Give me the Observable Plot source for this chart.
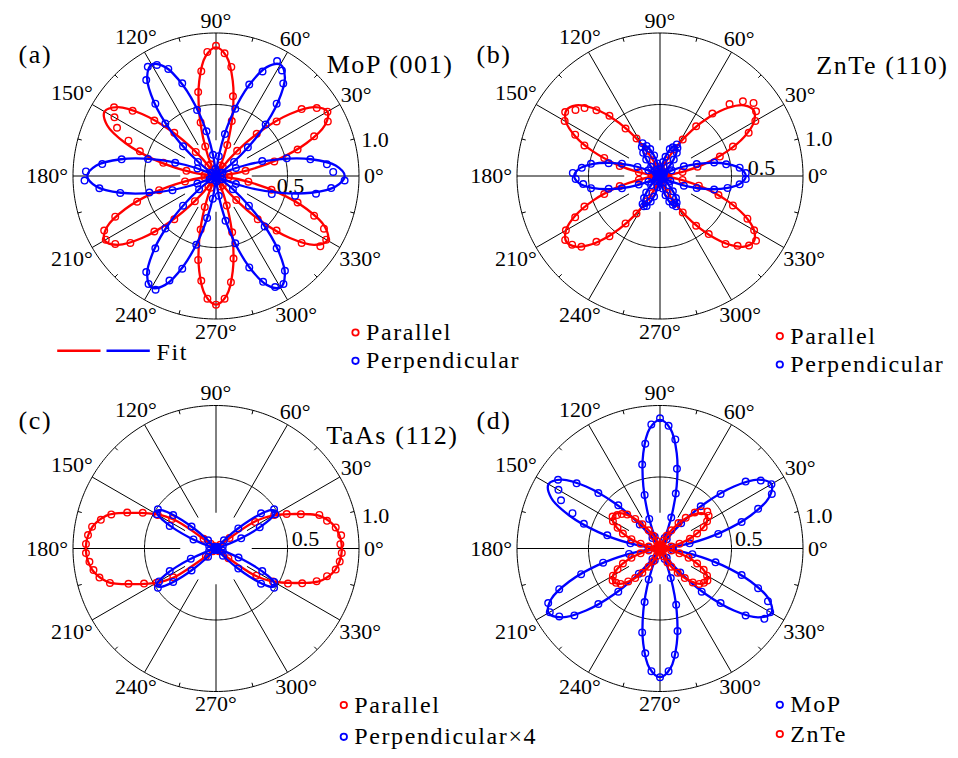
<!DOCTYPE html>
<html>
<head>
<meta charset="utf-8">
<script src="https://cdn.jsdelivr.net/npm/d3@7"></script>
<script src="https://cdn.jsdelivr.net/npm/@observablehq/plot@0.6"></script>
<style>
  html, body { margin: 0; padding: 0; background: #fff; }
  #chart { width: 958px; height: 758px; }
  #chart svg text { font-family: "Liberation Serif", "Times New Roman", serif !important; }
</style>
</head>
<body>
<div id="chart"></div>
<script>
// ================= DATA (radius vs. polarization angle, degrees) =================
// measured points: every 4 degrees starting at 2 degrees
const pointAngles = d3.range(2, 360, 4);

// (a) MoP (001)
const mopParallel = [
  0.01, 0.09, 0.21, 0.42, 0.60, 0.74, 0.87, 0.90, 0.85, 0.76, 0.57, 0.41, 0.23, 0.08, 0.02,
  0.02, 0.08, 0.23, 0.40, 0.57, 0.77, 0.86, 0.91, 0.87, 0.74, 0.60, 0.39, 0.22, 0.09, 0.01,
  0.01, 0.09, 0.22, 0.42, 0.58, 0.74, 0.86, 0.82, 0.77, 0.66, 0.56, 0.38, 0.21, 0.08, 0.02,
  0.02, 0.08, 0.22, 0.41, 0.58, 0.76, 0.87, 0.89, 0.85, 0.76, 0.58, 0.42, 0.23, 0.09, 0.01,
  0.01, 0.09, 0.23, 0.39, 0.60, 0.74, 0.86, 0.90, 0.86, 0.75, 0.59, 0.41, 0.22, 0.08, 0.02,
  0.02, 0.08, 0.22, 0.42, 0.57, 0.76, 0.88, 0.89, 0.84, 0.74, 0.60, 0.40, 0.23, 0.09, 0.01
];
const mopPerpendicular = [
  0.82, 0.78, 0.67, 0.51, 0.34, 0.15, 0.05, 0.01, 0.04, 0.16, 0.30, 0.50, 0.66, 0.80, 0.87,
  0.91, 0.80, 0.68, 0.49, 0.30, 0.14, 0.03, 0.01, 0.05, 0.15, 0.32, 0.48, 0.69, 0.82, 0.88,
  0.90, 0.83, 0.66, 0.51, 0.31, 0.16, 0.04, 0.00, 0.03, 0.14, 0.30, 0.49, 0.67, 0.80, 0.91,
  0.92, 0.82, 0.68, 0.48, 0.32, 0.14, 0.05, 0.01, 0.04, 0.15, 0.31, 0.51, 0.66, 0.83, 0.89,
  0.90, 0.80, 0.69, 0.50, 0.30, 0.16, 0.03, 0.01, 0.04, 0.14, 0.32, 0.49, 0.68, 0.81, 0.88,
  0.89, 0.82, 0.66, 0.49, 0.31, 0.15, 0.04, 0.01, 0.05, 0.15, 0.41, 0.57, 0.71, 0.81, 0.90
];

// (b) ZnTe (110)
const znteParallel = [
  0.01, 0.05, 0.16, 0.27, 0.44, 0.55, 0.69, 0.77, 0.81, 0.83, 0.78, 0.70, 0.57, 0.43, 0.30, 0.21, 0.12, 0.07, 0.03, 0.01, 0.01, 0.00, 0.01,
  0.00, 0.01, 0.02, 0.03, 0.07, 0.12, 0.20, 0.31, 0.41, 0.55, 0.64, 0.71, 0.75, 0.80, 0.77, 0.66, 0.57, 0.41, 0.29, 0.15, 0.06, 0.01,
  0.01, 0.06, 0.15, 0.29, 0.41, 0.57, 0.66, 0.76, 0.80, 0.78, 0.74, 0.64, 0.55, 0.41, 0.31, 0.20, 0.13, 0.06, 0.03, 0.01, 0.00, 0.00, 0.01,
  0.00, 0.01, 0.01, 0.03, 0.06, 0.13, 0.21, 0.30, 0.43, 0.53, 0.66, 0.73, 0.79, 0.81, 0.76, 0.68, 0.55, 0.43, 0.28, 0.16, 0.06, 0.01
];
const zntePerpendicular = [
  0.60, 0.56, 0.47, 0.39, 0.27, 0.18, 0.09, 0.03, 0.01, 0.02, 0.04, 0.10, 0.15, 0.20, 0.23, 0.25, 0.22, 0.20, 0.14, 0.10, 0.05, 0.02, 0.01,
  0.02, 0.05, 0.09, 0.15, 0.20, 0.23, 0.26, 0.24, 0.20, 0.15, 0.09, 0.05, 0.01, 0.01, 0.03, 0.09, 0.17, 0.28, 0.37, 0.49, 0.55, 0.61,
  0.59, 0.54, 0.49, 0.37, 0.28, 0.16, 0.09, 0.02, 0.01, 0.01, 0.04, 0.09, 0.15, 0.19, 0.23, 0.24, 0.23, 0.19, 0.15, 0.08, 0.04, 0.01, 0.00,
  0.01, 0.05, 0.09, 0.14, 0.19, 0.22, 0.24, 0.22, 0.19, 0.14, 0.09, 0.03, 0.01, 0.00, 0.03, 0.08, 0.18, 0.27, 0.39, 0.48, 0.56, 0.60
];

// (c) TaAs (112)
const taasParallel = [
  0.87, 0.88, 0.85, 0.80, 0.76, 0.64, 0.55, 0.47, 0.33, 0.12,
  0.04, 0.02, 0.01, 0.01, 0.00, 0.01, 0.00, 0.01, 0.00, 0.01, 0.00, 0.01, 0.00, 0.01, 0.00, 0.01, 0.00, 0.01, 0.00, 0.01, 0.01, 0.01, 0.02, 0.02, 0.05,
  0.11, 0.37, 0.47, 0.57, 0.67, 0.77, 0.83, 0.88, 0.90, 0.91,
  0.91, 0.89, 0.87, 0.84, 0.78, 0.66, 0.56, 0.48, 0.36, 0.09,
  0.03, 0.01, 0.01, 0.00, 0.01, 0.00, 0.01, 0.00, 0.01, 0.00, 0.01, 0.00, 0.01, 0.00, 0.01, 0.00, 0.01, 0.00, 0.01, 0.00, 0.01, 0.01, 0.01, 0.02, 0.03,
  0.11, 0.34, 0.46, 0.56, 0.65, 0.74, 0.80, 0.85, 0.87, 0.88
];
const taasPerpendicularX4 = [
  0.01, 0.00, 0.01, 0.01, 0.05, 0.19, 0.34, 0.48, 0.49, 0.40, 0.21, 0.08, 0.01, 0.00, 0.01,
  0.00, 0.01, 0.00, 0.01, 0.00, 0.01, 0.00, 0.01, 0.00, 0.01, 0.00, 0.01, 0.00, 0.01, 0.00,
  0.01, 0.00, 0.01, 0.08, 0.23, 0.38, 0.49, 0.48, 0.36, 0.17, 0.05, 0.01, 0.00, 0.01, 0.00,
  0.01, 0.00, 0.01, 0.01, 0.05, 0.19, 0.36, 0.46, 0.49, 0.38, 0.23, 0.08, 0.01, 0.00, 0.01,
  0.00, 0.01, 0.00, 0.01, 0.00, 0.01, 0.00, 0.01, 0.00, 0.01, 0.00, 0.01, 0.00, 0.01, 0.00,
  0.01, 0.00, 0.01, 0.07, 0.21, 0.40, 0.49, 0.47, 0.36, 0.17, 0.05, 0.01, 0.00, 0.01, 0.00
];

// (d) MoP (same as a, parallel) vs ZnTe parallel on the common scale
const znteVsMoP = [
  0.01, 0.03, 0.08, 0.14, 0.22, 0.28, 0.34, 0.38, 0.41, 0.42, 0.39, 0.35, 0.28, 0.22, 0.15, 0.10, 0.06, 0.03, 0.02, 0.01, 0.00, 0.00, 0.00,
  0.00, 0.00, 0.01, 0.02, 0.03, 0.06, 0.10, 0.15, 0.21, 0.27, 0.33, 0.36, 0.38, 0.40, 0.38, 0.33, 0.28, 0.21, 0.14, 0.08, 0.03, 0.01,
  0.00, 0.03, 0.08, 0.14, 0.21, 0.28, 0.33, 0.38, 0.40, 0.39, 0.37, 0.32, 0.27, 0.21, 0.15, 0.10, 0.06, 0.03, 0.01, 0.00, 0.00, 0.00, 0.00,
  0.00, 0.00, 0.01, 0.01, 0.03, 0.06, 0.11, 0.15, 0.21, 0.27, 0.33, 0.37, 0.39, 0.40, 0.38, 0.34, 0.28, 0.21, 0.14, 0.08, 0.03, 0.01
];

// fit curves read every 5 degrees (a, b, d) and every 2.5 degrees (c)
const fitAngles5 = d3.range(0, 360, 5);
const fitAngles25 = d3.range(0, 360, 2.5);

const mopParallelFit = [
  0, 0.06, 0.225, 0.45, 0.675, 0.84, 0.9, 0.84, 0.675, 0.45, 0.225, 0.06,
  0, 0.06, 0.225, 0.45, 0.675, 0.84, 0.9, 0.84, 0.675, 0.45, 0.225, 0.06,
  0, 0.06, 0.225, 0.45, 0.675, 0.84, 0.9, 0.84, 0.675, 0.45, 0.225, 0.06,
  0, 0.06, 0.225, 0.45, 0.675, 0.84, 0.9, 0.84, 0.675, 0.45, 0.225, 0.06,
  0, 0.06, 0.225, 0.45, 0.675, 0.84, 0.9, 0.84, 0.675, 0.45, 0.225, 0.06,
  0, 0.06, 0.225, 0.45, 0.675, 0.84, 0.9, 0.84, 0.675, 0.45, 0.225, 0.06
];
const mopPerpendicularFit = [
  0.9, 0.84, 0.675, 0.45, 0.225, 0.06, 0, 0.06, 0.225, 0.45, 0.675, 0.84,
  0.9, 0.84, 0.675, 0.45, 0.225, 0.06, 0, 0.06, 0.225, 0.45, 0.675, 0.84,
  0.9, 0.84, 0.675, 0.45, 0.225, 0.06, 0, 0.06, 0.225, 0.45, 0.675, 0.84,
  0.9, 0.84, 0.675, 0.45, 0.225, 0.06, 0, 0.06, 0.225, 0.45, 0.675, 0.84,
  0.9, 0.84, 0.675, 0.45, 0.225, 0.06, 0, 0.06, 0.225, 0.45, 0.675, 0.84,
  0.9, 0.84, 0.675, 0.45, 0.225, 0.06, 0, 0.06, 0.225, 0.45, 0.675, 0.84
];
const znteParallelFit = [
  0, 0.040, 0.153, 0.315, 0.493, 0.651, 0.759, 0.800, 0.768, 0.675, 0.541, 0.392, 0.253, 0.142, 0.065, 0.023, 0.005, 0.000,
  0, 0.000, 0.005, 0.023, 0.065, 0.142, 0.253, 0.392, 0.541, 0.675, 0.768, 0.800, 0.759, 0.651, 0.493, 0.315, 0.153, 0.040,
  0, 0.040, 0.153, 0.315, 0.493, 0.651, 0.759, 0.800, 0.768, 0.675, 0.541, 0.392, 0.253, 0.142, 0.065, 0.023, 0.005, 0.000,
  0, 0.000, 0.005, 0.023, 0.065, 0.142, 0.253, 0.392, 0.541, 0.675, 0.768, 0.800, 0.759, 0.651, 0.493, 0.315, 0.153, 0.040
];
const zntePerpendicularFit = [
  0.600, 0.569, 0.481, 0.357, 0.223, 0.106, 0.028, 0.000, 0.020, 0.075, 0.143, 0.203, 0.234, 0.230, 0.191, 0.130, 0.066, 0.018,
  0, 0.018, 0.066, 0.130, 0.191, 0.230, 0.234, 0.203, 0.143, 0.075, 0.020, 0.000, 0.028, 0.106, 0.223, 0.357, 0.481, 0.569,
  0.600, 0.569, 0.481, 0.357, 0.223, 0.106, 0.028, 0.000, 0.020, 0.075, 0.143, 0.203, 0.234, 0.230, 0.191, 0.130, 0.066, 0.018,
  0, 0.018, 0.066, 0.130, 0.191, 0.230, 0.234, 0.203, 0.143, 0.075, 0.020, 0.000, 0.028, 0.106, 0.223, 0.357, 0.481, 0.569
];
const znteVsMoPFit = [
  0, 0.020, 0.077, 0.157, 0.246, 0.325, 0.380, 0.400, 0.384, 0.338, 0.270, 0.196, 0.127, 0.071, 0.033, 0.011, 0.002, 0.000,
  0, 0.000, 0.002, 0.011, 0.033, 0.071, 0.127, 0.196, 0.270, 0.338, 0.384, 0.400, 0.380, 0.325, 0.246, 0.157, 0.077, 0.020,
  0, 0.020, 0.077, 0.157, 0.246, 0.325, 0.380, 0.400, 0.384, 0.338, 0.270, 0.196, 0.127, 0.071, 0.033, 0.011, 0.002, 0.000,
  0, 0.000, 0.002, 0.011, 0.033, 0.071, 0.127, 0.196, 0.270, 0.338, 0.384, 0.400, 0.380, 0.325, 0.246, 0.157, 0.077, 0.020
];
const taasParallelFit = [
  0.880, 0.878, 0.872, 0.862, 0.848, 0.826, 0.797, 0.760, 0.700, 0.630, 0.570, 0.515, 0.460, 0.400, 0.320, 0.120,
  0, 0, 0, 0, 0, 0, 0, 0, 0, 0, 0, 0, 0, 0, 0, 0, 0, 0, 0, 0, 0, 0, 0, 0, 0, 0, 0, 0, 0, 0, 0, 0, 0, 0, 0, 0, 0, 0, 0, 0, 0,
  0.124, 0.331, 0.414, 0.476, 0.532, 0.589, 0.651, 0.724, 0.786, 0.824, 0.854, 0.877, 0.891, 0.902, 0.908,
  0.910,
  0.908, 0.902, 0.891, 0.877, 0.854, 0.824, 0.786, 0.724, 0.651, 0.589, 0.532, 0.476, 0.414, 0.331, 0.124,
  0, 0, 0, 0, 0, 0, 0, 0, 0, 0, 0, 0, 0, 0, 0, 0, 0, 0, 0, 0, 0, 0, 0, 0, 0, 0, 0, 0, 0, 0, 0, 0, 0, 0, 0, 0, 0, 0, 0, 0, 0,
  0.120, 0.320, 0.400, 0.460, 0.515, 0.570, 0.630, 0.700, 0.760, 0.797, 0.826, 0.848, 0.862, 0.872, 0.878
];
const taasPerpendicularX4Fit = [
  0, 0, 0, 0, 0, 0,
  0.001, 0.033, 0.104, 0.202, 0.308, 0.402, 0.467, 0.490, 0.467, 0.402, 0.308, 0.202, 0.104, 0.033, 0.001,
  0, 0, 0, 0, 0, 0, 0, 0, 0, 0, 0, 0, 0, 0, 0, 0, 0, 0, 0, 0, 0, 0, 0, 0, 0, 0, 0, 0, 0, 0, 0,
  0.001, 0.033, 0.104, 0.202, 0.308, 0.402, 0.467, 0.490, 0.467, 0.402, 0.308, 0.202, 0.104, 0.033, 0.001,
  0, 0, 0, 0, 0, 0, 0, 0, 0, 0, 0,
  0.001, 0.033, 0.104, 0.202, 0.308, 0.402, 0.467, 0.490, 0.467, 0.402, 0.308, 0.202, 0.104, 0.033, 0.001,
  0, 0, 0, 0, 0, 0, 0, 0, 0, 0, 0, 0, 0, 0, 0, 0, 0, 0, 0, 0, 0, 0, 0, 0, 0, 0, 0, 0, 0, 0, 0,
  0.001, 0.033, 0.104, 0.202, 0.308, 0.402, 0.467, 0.490, 0.467, 0.402, 0.308, 0.202, 0.104, 0.033, 0.001,
  0, 0, 0, 0, 0
];

// grid / tick labels
const spokeAngles = d3.range(0, 360, 30);
const minorTickAngles = d3.range(15, 360, 30);
const ringRadii = [0.5, 1.0];
const radialTickLabels = ["0.5", "1.0"];

const panelTitles = ["MoP (001)", "ZnTe (110)", "TaAs (112)", ""];
const panelLetters = ["(a)", "(b)", "(c)", "(d)"];
const legendLabels = [["Parallel", "Perpendicular"], ["Parallel", "Perpendicular"], ["Parallel", "Perpendicular×4"], ["MoP", "ZnTe"]];

// ================= LAYOUT =================
const W = 958, H = 758, R = 143; // R: pixels for radius 1.0
const RED = "#ff0000", BLUE = "#0000ff";
const FONT = "'Liberation Serif', 'Times New Roman', serif";
const panels = ["a", "b", "c", "d"];
const centers = {a: [215.5, 175.5], b: [659.5, 175.5], c: [215.5, 548], d: [659.5, 548]};

const checks = [["mopParallel", mopParallel, 90], ["mopPerpendicular", mopPerpendicular, 90], ["znteParallel", znteParallel, 90],
  ["zntePerpendicular", zntePerpendicular, 90], ["taasParallel", taasParallel, 90], ["taasPerpendicularX4", taasPerpendicularX4, 90],
  ["znteVsMoP", znteVsMoP, 90], ["mopParallelFit", mopParallelFit, 72], ["mopPerpendicularFit", mopPerpendicularFit, 72],
  ["znteParallelFit", znteParallelFit, 72], ["zntePerpendicularFit", zntePerpendicularFit, 72], ["znteVsMoPFit", znteVsMoPFit, 72],
  ["taasParallelFit", taasParallelFit, 144], ["taasPerpendicularX4Fit", taasPerpendicularX4Fit, 144]];
for (const [n, a, k] of checks) if (a.length !== k) throw new Error(n + " has " + a.length + " values, expected " + k);

const rad = deg => deg * Math.PI / 180;
const X = (p, r, deg) => (centers[p][0] + R * r * Math.cos(rad(deg))) / R;
const Y = (p, r, deg) => -(centers[p][1] - R * r * Math.sin(rad(deg))) / R;
const PX = px => px / R, PY = py => -py / R;

// series: [panel, values, color]
const pointSeries = [
  ["a", mopParallel, RED], ["a", mopPerpendicular, BLUE],
  ["b", znteParallel, RED], ["b", zntePerpendicular, BLUE],
  ["c", taasParallel, RED], ["c", taasPerpendicularX4, BLUE],
  ["d", mopParallel, BLUE], ["d", znteVsMoP, RED]
];
const fitSeries = [
  ["a", fitAngles5, mopParallelFit, RED], ["a", fitAngles5, mopPerpendicularFit, BLUE],
  ["b", fitAngles5, znteParallelFit, RED], ["b", fitAngles5, zntePerpendicularFit, BLUE],
  ["c", fitAngles25, taasParallelFit, RED], ["c", fitAngles25, taasPerpendicularX4Fit, BLUE],
  ["d", fitAngles5, mopParallelFit, BLUE], ["d", fitAngles5, znteVsMoPFit, RED]
];

// grid geometry
const ringRows = [];
for (const p of panels) for (const ring of ringRadii) for (const a of d3.range(0, 360, 1)) ringRows.push({p, ring, a});
const spokeRows = [];
for (const p of panels) for (const a of spokeAngles) spokeRows.push({p, a});
const minorRows = [];
for (const p of panels) for (const a of minorTickAngles) minorRows.push({p, a});

// angle labels: centre placed just outside the outer circle
const LABEL_SIZE = 22;
function labelRadius(deg) {
  const s = `${deg}°`;
  const hw = ((s.length - 1) * 0.5 + 0.4) * LABEL_SIZE / 2;
  const hh = 7.5;
  const t = rad(deg);
  return (R + 5 + Math.hypot(hw * Math.cos(t), hh * Math.sin(t))) / R;
}

// radial tick labels positions (pixel offsets from centre; +dy up)
const radialLabelRows = [
  {p: "a", text: radialTickLabels[0], dx: 74.5, dy: -9.5}, {p: "a", text: radialTickLabels[1], dx: 159, dy: 36.5},
  {p: "b", text: radialTickLabels[0], dx: 101.5, dy: 8}, {p: "b", text: radialTickLabels[1], dx: 158.8, dy: 37.4},
  {p: "c", text: radialTickLabels[0], dx: 89.5, dy: 9.7}, {p: "c", text: radialTickLabels[1], dx: 159.5, dy: 33},
  {p: "d", text: radialTickLabels[0], dx: 88.8, dy: 9.4}, {p: "d", text: radialTickLabels[1], dx: 158.8, dy: 32.7}
];

const letterRows = [
  {text: panelLetters[0], px: 18, py: 53.7}, {text: panelLetters[1], px: 476, py: 54},
  {text: panelLetters[2], px: 18, py: 420.3}, {text: panelLetters[3], px: 476, py: 420.3}
];
const titleRows = [
  {text: panelTitles[0], px: 453, py: 64}, {text: panelTitles[1], px: 948, py: 65},
  {text: panelTitles[2], px: 458, py: 435}
];
const legendRows = [
  {px: 355, py: 332, text: legendLabels[0][0], color: RED},
  {px: 355, py: 360.3, text: legendLabels[0][1], color: BLUE},
  {px: 779.3, py: 335.6, text: legendLabels[1][0], color: RED},
  {px: 779.3, py: 364, text: legendLabels[1][1], color: BLUE},
  {px: 343.3, py: 704.5, text: legendLabels[2][0], color: RED},
  {px: 343.3, py: 736.3, text: legendLabels[2][1], color: BLUE},
  {px: 779.3, py: 704.3, text: legendLabels[3][0], color: BLUE},
  {px: 779.3, py: 733.5, text: legendLabels[3][1], color: RED}
];
const fitLegendRows = [
  {x1: 56.7, x2: 100, py: 350.3, color: RED},
  {x1: 106, x2: 149.3, py: 350.3, color: BLUE}
];

// ================= MARKS =================
const marks = [
  Plot.line(ringRows, {
    x: d => X(d.p, d.ring, d.a), y: d => Y(d.p, d.ring, d.a), z: d => d.p + d.ring,
    curve: "linear-closed", stroke: "black", strokeWidth: 1
  }),
  Plot.link(spokeRows, {
    x1: d => X(d.p, 0.25, d.a), y1: d => Y(d.p, 0.25, d.a),
    x2: d => X(d.p, 1, d.a), y2: d => Y(d.p, 1, d.a),
    stroke: "black", strokeWidth: 1
  }),
  Plot.link(minorRows, {
    x1: d => X(d.p, 0.972, d.a), y1: d => Y(d.p, 0.972, d.a),
    x2: d => X(d.p, 1, d.a), y2: d => Y(d.p, 1, d.a),
    stroke: "black", strokeWidth: 1
  }),
  Plot.text(spokeRows, {
    x: d => X(d.p, labelRadius(d.a), d.a), y: d => Y(d.p, labelRadius(d.a), d.a),
    text: d => `${d.a}°`, fontSize: LABEL_SIZE, fontFamily: FONT, fill: "black"
  }),
  Plot.text(radialLabelRows, {
    x: d => PX(centers[d.p][0] + d.dx), y: d => PY(centers[d.p][1] - d.dy),
    text: "text", fontSize: LABEL_SIZE, fontFamily: FONT, fill: "black"
  })
];

for (let i = 0; i < pointSeries.length; i++) {
  const [p, values, color] = pointSeries[i];
  const [, fa, fv] = fitSeries[i];
  const fitRows = fa.map((a, j) => ({p, a, r: fv[j]}));
  const ptRows = pointAngles.map((a, j) => ({p, a, r: values[j]}));
  marks.push(
    Plot.line(fitRows, {
      x: d => X(d.p, d.r, d.a), y: d => Y(d.p, d.r, d.a),
      stroke: color, strokeWidth: 2.3, curve: "catmull-rom-closed"
    }),
    Plot.dot(ptRows, {
      x: d => X(d.p, d.r, d.a), y: d => Y(d.p, d.r, d.a),
      r: 3.3, stroke: color, strokeWidth: 1.4, fill: "none"
    })
  );
}

marks.push(
  Plot.text(letterRows, {x: d => PX(d.px), y: d => PY(d.py), text: "text", textAnchor: "start", fontSize: 26, fontFamily: FONT}),
  Plot.text(titleRows, {x: d => PX(d.px), y: d => PY(d.py), text: "text", textAnchor: "end", fontSize: 26, fontFamily: FONT}),
  Plot.dot(legendRows, {x: d => PX(d.px), y: d => PY(d.py), r: 3.2, stroke: d => d.color, strokeWidth: 1.8, fill: "none"}),
  Plot.text(legendRows, {x: d => PX(d.px + 10.5), y: d => PY(d.py), text: "text", textAnchor: "start", fontSize: 24, fontFamily: FONT}),
  Plot.link(fitLegendRows, {x1: d => PX(d.x1), x2: d => PX(d.x2), y1: d => PY(d.py), y2: d => PY(d.py), stroke: d => d.color, strokeWidth: 2.6}),
  Plot.text(["Fit"], {x: PX(156), y: PY(352), text: d => d, textAnchor: "start", fontSize: 24, fontFamily: FONT})
);

const svg = Plot.plot({
  width: W,
  height: H,
  margin: 0,
  x: {domain: [0, W / R], axis: null},
  y: {domain: [-H / R, 0], axis: null},
  color: {type: "identity"},
  style: {background: "white", fontFamily: FONT},
  marks
});

// Computer-Modern-like width for the larger serif texts
const wide = new Set([...panelTitles, ...panelLetters, ...legendLabels.flat(), "Fit"]);
d3.select(svg).selectAll("text").filter(function () { return wide.has(this.textContent); })
  .attr("letter-spacing", "1.6px");

document.getElementById("chart").appendChild(svg);
</script>
</body>
</html>
